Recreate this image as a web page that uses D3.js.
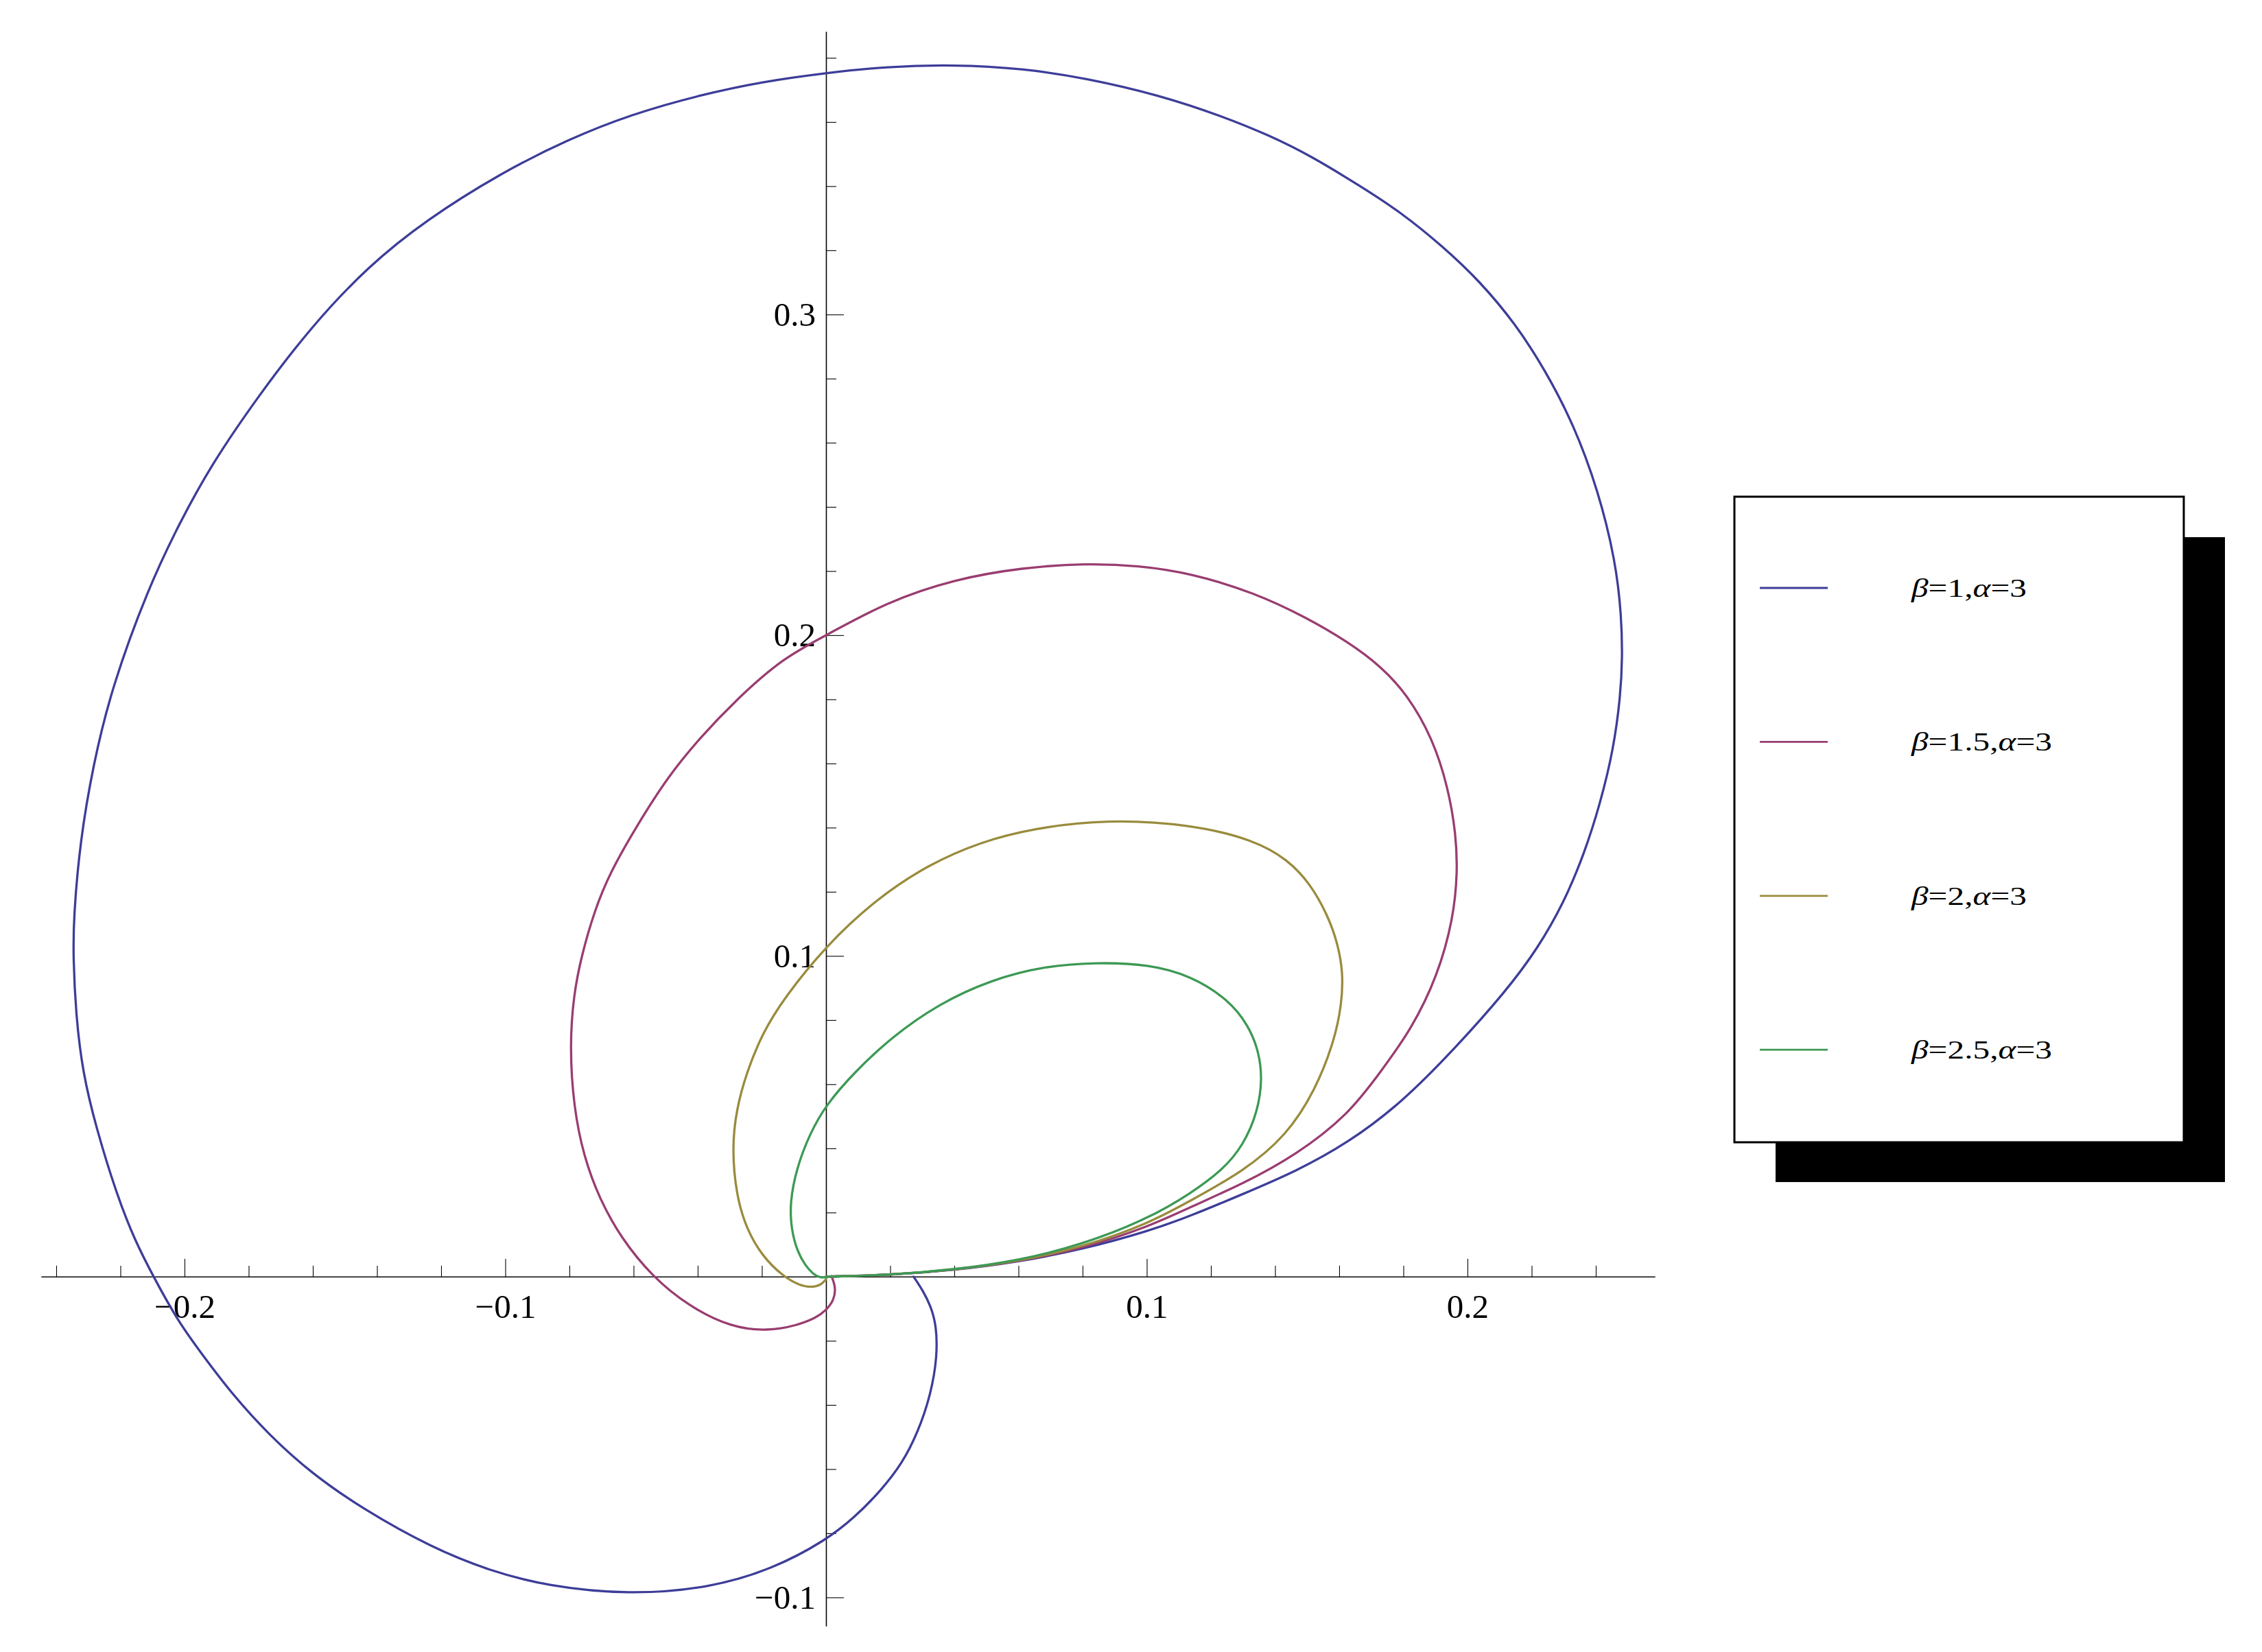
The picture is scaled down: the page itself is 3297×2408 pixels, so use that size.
<!DOCTYPE html>
<html lang="en">
<head>
    <meta charset="utf-8">
    <title>Curves beta / alpha</title>
    <style>
        body { margin: 0; background: white; }
        .axis path, .axis line { fill: none; stroke: black; }
        .axis path { stroke-width: 1.3px; }
        .axis line { stroke-width: 1.1px; }
        .axis text { fill: black; font-family: "Liberation Serif", "DejaVu Serif", serif; font-size: 49px; }
        .curve { fill: none; stroke-width: 3.3px; stroke-linejoin: round; stroke-linecap: round; }
        .legend text { font-family: "Liberation Serif", "DejaVu Serif", serif; font-size: 38px; fill: black; }
    </style>
</head>
<body>
<div id="chart"></div>
<script src="https://d3js.org/d3.v7.min.js"></script>
<script>
    // values, [x, y]
    var beta1 = [
        [0, 0], [0.02, 0.0005], [0.04, 0.0020], [0.06, 0.0046], [0.08, 0.0085],
        [0.1007, 0.0142], [0.1138, 0.0190], [0.1301, 0.0258], [0.1465, 0.0328],
        [0.1629, 0.0418], [0.1792, 0.0540], [0.1956, 0.0706], [0.2120, 0.0890],
        [0.2218, 0.1022], [0.2300, 0.1165], [0.2365, 0.1321], [0.2414, 0.1476],
        [0.2455, 0.1643], [0.2477, 0.1810], [0.2483, 0.1930], [0.2480, 0.2060],
        [0.2462, 0.2230], [0.2408, 0.2450], [0.2330, 0.2660], [0.2240, 0.2830],
        [0.2150, 0.2970], [0.2038, 0.3104], [0.1923, 0.3212], [0.1792, 0.3319],
        [0.1661, 0.3403], [0.1514, 0.3493], [0.1383, 0.3558], [0.1236, 0.3618],
        [0.1039, 0.3684], [0.0810, 0.3737], [0.0614, 0.3767], [0.0401, 0.3779],
        [0.0188, 0.3773], [0, 0.3753], [-0.0198, 0.3726], [-0.0394, 0.3684],
        [-0.0607, 0.3624], [-0.0804, 0.3546], [-0.1017, 0.3439], [-0.1246, 0.3295],
        [-0.1426, 0.3152], [-0.1606, 0.2961], [-0.1770, 0.2746], [-0.1917, 0.2531],
        [-0.2015, 0.2351], [-0.2113, 0.2148], [-0.2228, 0.1834], [-0.2285, 0.1595],
        [-0.2326, 0.1356], [-0.2346, 0.1117], [-0.2347, 0.0998], [-0.2339, 0.0819],
        [-0.2318, 0.0639], [-0.2277, 0.0469], [-0.2211, 0.0254], [-0.2154, 0.0111],
        [-0.2097, 0], [-0.2020, -0.0140], [-0.1941, -0.0248], [-0.1851, -0.0367],
        [-0.1737, -0.0493], [-0.1606, -0.0612], [-0.1442, -0.0726], [-0.1229, -0.0845],
        [-0.1049, -0.0917], [-0.0869, -0.0965], [-0.0615, -0.0992], [-0.0362, -0.0971],
        [-0.0165, -0.0911], [0, -0.0822], [0.0090, -0.0750], [0.0172, -0.0666],
        [0.0237, -0.0583], [0.0286, -0.0487], [0.0327, -0.0367], [0.0347, -0.0248],
        [0.0344, -0.0152], [0.0327, -0.0093], [0.0303, -0.0045], [0.0273, 0]
    ];
    var beta15 = [
        [0, 0], [0.02, 0.0005], [0.04, 0.0021], [0.06, 0.0047], [0.08, 0.0088],
        [0.1007, 0.0156], [0.1138, 0.0218], [0.1301, 0.0290], [0.1465, 0.0379],
        [0.1629, 0.0505], [0.1730, 0.0640], [0.1825, 0.0771], [0.1907, 0.0938],
        [0.1956, 0.1117], [0.1969, 0.1261], [0.1964, 0.1380], [0.1940, 0.1524],
        [0.1891, 0.1679], [0.1812, 0.1815], [0.1730, 0.1903], [0.1629, 0.1978],
        [0.1498, 0.2055], [0.1334, 0.2133], [0.1138, 0.2193], [0.0974, 0.2217],
        [0.0810, 0.2224], [0.0614, 0.2211], [0.0401, 0.2175], [0.0188, 0.2103],
        [0, 0.1999], [-0.0133, 0.1930], [-0.0280, 0.1799], [-0.0394, 0.1679],
        [-0.0493, 0.1559], [-0.0591, 0.1404], [-0.0673, 0.1261], [-0.0722, 0.1141],
        [-0.0763, 0.0998], [-0.0787, 0.0878], [-0.0799, 0.0720], [-0.0787, 0.0529],
        [-0.0755, 0.0373], [-0.0706, 0.0242], [-0.0640, 0.0122], [-0.0542, 0],
        [-0.0427, -0.0093], [-0.0296, -0.0158], [-0.0182, -0.0170], [-0.0090, -0.0152],
        [-0.0030, -0.0128], [0, -0.0105], [0.0024, -0.0075], [0.0031, -0.0035],
        [0.0017, 0.0002]
    ];
    var beta2 = [
        [0, 0], [0.02, 0.0005], [0.04, 0.0021], [0.06, 0.0048], [0.08, 0.0092],
        [0.1007, 0.0166], [0.1138, 0.0238], [0.1301, 0.0328], [0.1436, 0.0440],
        [0.1525, 0.0580], [0.1585, 0.0735], [0.1608, 0.0850], [0.1612, 0.0950],
        [0.1595, 0.1040], [0.1565, 0.1125], [0.1510, 0.1225], [0.1440, 0.1300],
        [0.1334, 0.1362], [0.1138, 0.1410], [0.0876, 0.1426], [0.0647, 0.1398],
        [0.0483, 0.1356], [0.0319, 0.1285], [0.0156, 0.1177], [0, 0.1032],
        [-0.0133, 0.0866], [-0.0198, 0.0759], [-0.0247, 0.0639], [-0.0280, 0.0520],
        [-0.0293, 0.0400], [-0.0280, 0.0254], [-0.0247, 0.0146], [-0.0198, 0.0063],
        [-0.0133, 0.0000], [-0.0083, -0.0027], [-0.0045, -0.0034], [-0.0015, -0.0026],
        [0, -0.0008]
    ];
    var beta25 = [
        [0, 0], [0.02, 0.0005], [0.04, 0.0022], [0.06, 0.0050], [0.08, 0.0100],
        [0.1007, 0.0182], [0.1138, 0.0260], [0.1236, 0.0332], [0.1301, 0.0409],
        [0.1347, 0.0517], [0.1360, 0.0618], [0.1350, 0.0699], [0.1318, 0.0783],
        [0.1252, 0.0866], [0.1138, 0.0938], [0.1007, 0.0974], [0.0843, 0.0980],
        [0.0679, 0.0968], [0.0516, 0.0926], [0.0350, 0.0850], [0.0205, 0.0747],
        [0.0090, 0.0639], [0, 0.0536], [-0.0051, 0.0445], [-0.0092, 0.0338],
        [-0.0113, 0.0230], [-0.0108, 0.0146], [-0.0090, 0.0080], [-0.0065, 0.0035],
        [-0.0040, 0.0008], [-0.0020, -0.0003], [0, -0.0002]
    ];

    var betaLabels = ["1", "1.5", "2", "2.5"];
    var alphaLabel = "3";
    var colors = ["#3d3d99", "#993d71", "#998b3d", "#3d9954"];

    var xMajorTicks = [-0.2, -0.1, 0.1, 0.2];
    var xMinorTicks = [-0.24, -0.22, -0.18, -0.16, -0.14, -0.12, -0.08, -0.06, -0.04, -0.02,
        0.02, 0.04, 0.06, 0.08, 0.12, 0.14, 0.16, 0.18, 0.22, 0.24];
    var yMajorTicks = [-0.1, 0.1, 0.2, 0.3];
    var yMinorTicks = [-0.08, -0.06, -0.04, -0.02, 0.02, 0.04, 0.06, 0.08, 0.12, 0.14, 0.16,
        0.18, 0.22, 0.24, 0.26, 0.28, 0.32, 0.34, 0.36, 0.38];

    var series = [beta1, beta15, beta2, beta25];

    var width = 3297, height = 2408;

    var x = d3.scaleLinear().domain([-0.2447, 0.2584]).range([60, 2412]);
    var y = d3.scaleLinear().domain([-0.1089, 0.3882]).range([2370, 46]);

    var svg = d3.select("#chart").append("svg")
        .attr("width", width)
        .attr("height", height)
        .style("display", "block");

    svg.append("rect").attr("width", width).attr("height", height).attr("fill", "white");

    function fmt(d) {
        return d < 0 ? "\u2212" + Math.abs(d) : String(d);
    }

    // x axis: ticks point up, labels below
    var gx = svg.append("g").attr("class", "x axis")
        .attr("transform", "translate(0," + y(0) + ")");
    gx.append("g").call(d3.axisBottom(x).tickValues(xMinorTicks).tickSizeInner(-16).tickSizeOuter(0).tickFormat(""));
    gx.append("g").call(d3.axisBottom(x).tickValues(xMajorTicks).tickSizeInner(-26).tickSizeOuter(0)
        .tickPadding(25).tickFormat(fmt));

    // y axis: ticks point right, labels left
    var gy = svg.append("g").attr("class", "y axis")
        .attr("transform", "translate(" + x(0) + ",0)");
    gy.append("g").call(d3.axisLeft(y).tickValues(yMinorTicks).tickSizeInner(-15).tickSizeOuter(0).tickFormat(""));
    gy.append("g").call(d3.axisLeft(y).tickValues(yMajorTicks).tickSizeInner(-26).tickSizeOuter(0)
        .tickPadding(15).tickFormat(fmt));

    svg.selectAll(".axis g").attr("font-family", null).attr("font-size", null);

    // b-spline through the read points, smooths out reading noise
    var line = d3.line()
        .x(function(d) { return x(d[0]); })
        .y(function(d) { return y(d[1]); })
        .curve(d3.curveBasis);

    svg.selectAll(".curve")
        .data(series)
        .enter().append("path")
        .attr("class", "curve")
        .attr("stroke", function(d, i) { return colors[i]; })
        .attr("d", line);

    // legend with drop shadow
    var legend = svg.append("g").attr("class", "legend");
    legend.append("rect")
        .attr("x", 2588).attr("y", 783).attr("width", 655).attr("height", 940)
        .attr("fill", "black");
    legend.append("rect")
        .attr("x", 2528).attr("y", 724).attr("width", 655).attr("height", 941)
        .attr("fill", "white").attr("stroke", "black").attr("stroke-width", 3);

    var rows = legend.selectAll(".row")
        .data(betaLabels)
        .enter().append("g")
        .attr("class", "row")
        .attr("transform", function(d, i) { return "translate(0," + (857 + i * 224.4) + ")"; });

    rows.append("line")
        .attr("x1", 2565).attr("x2", 2664)
        .attr("stroke", function(d, i) { return colors[i]; })
        .attr("stroke-width", 2.8);

    var txt = rows.append("text")
        .attr("transform", "translate(2786,13) scale(1.3,1)");
    txt.append("tspan").attr("font-style", "italic").text("\u03b2");
    txt.append("tspan").text(function(d) { return "=" + d + ","; });
    txt.append("tspan").attr("font-style", "italic").text("\u03b1");
    txt.append("tspan").text("=" + alphaLabel);
</script>
</body>
</html>
